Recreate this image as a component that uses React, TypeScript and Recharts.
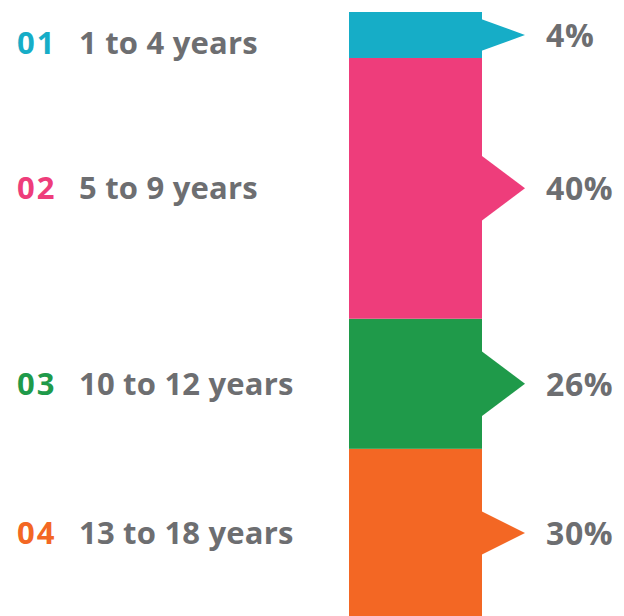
import React from 'react';
import { BarChart, Bar, XAxis, YAxis } from 'recharts';

const codes = ['01', '02', '03', '04'];
const ageGroups = ['1 to 4 years', '5 to 9 years', '10 to 12 years', '13 to 18 years'];
const percentLabels = ['4%', '40%', '26%', '30%'];
// share of the drawn bar taken by each segment (as drawn in the picture)
const barShare = [7.6, 43.1, 21.5, 27.8];

const COLORS = ['#16adc7', '#ee3d7b', '#1f9a4a', '#f36724'];
const ARROW_HALF = [16, 33, 33, 22];
const ARROW_LEN = 43;
const LABEL_SHIFT = [8, 0, 0, 0];
const TEXT_GRAY = '#6d6e71';
const FONT = '"Open Sans", sans-serif';

function makeShape(i: number) {
  return (props: any) => {
    const { x, y, width, height } = props;
    const top = Math.min(y, y + height);
    const h = Math.abs(height);
    const cy = top + h / 2;
    const right = x + width;
    const ah = ARROW_HALF[i];
    const base = cy + 11;
    return (
      <g>
        <rect x={x} y={top} width={width} height={h} fill={COLORS[i]} />
        <polygon
          points={`${right - 1},${cy - ah} ${right + ARROW_LEN},${cy} ${right - 1},${cy + ah}`}
          fill={COLORS[i]}
        />
        <text x={right + 64} y={cy + 12} fill={TEXT_GRAY} fontFamily={FONT} fontWeight={700} fontSize={32} letterSpacing={0.6}>
          {percentLabels[i]}
        </text>
        <text x={17} y={base + LABEL_SHIFT[i]} fill={COLORS[i]} fontFamily={FONT} fontWeight={700} fontSize={31} letterSpacing={2}>
          {codes[i]}
        </text>
        <text x={79} y={base + LABEL_SHIFT[i]} fill={TEXT_GRAY} fontFamily={FONT} fontWeight={700} fontSize={31} letterSpacing={0.2}>
          {ageGroups[i]}
        </text>
      </g>
    );
  };
}

const row: Record<string, any> = { name: 'Age' };
barShare.forEach((v, i) => {
  row[`s${i}`] = v;
});
const data = [row];

const order = [3, 2, 1, 0];

export default function App() {
  return (
    <div style={{ position: 'absolute', left: 0, top: 0, width: 624, height: 616, overflow: 'hidden', background: '#fff' }}>
      <BarChart
        width={624}
        height={618}
        data={data}
        margin={{ top: 12, right: 142, bottom: 1, left: 349 }}
        barCategoryGap={0}
        barGap={0}
      >
        <XAxis dataKey="name" hide />
        <YAxis hide domain={[0, 100]} />
        {order.map((i) => (
          <Bar
            key={i}
            dataKey={`s${i}`}
            stackId="a"
            fill={COLORS[i]}
            isAnimationActive={false}
            shape={makeShape(i)}
          />
        ))}
      </BarChart>
    </div>
  );
}
